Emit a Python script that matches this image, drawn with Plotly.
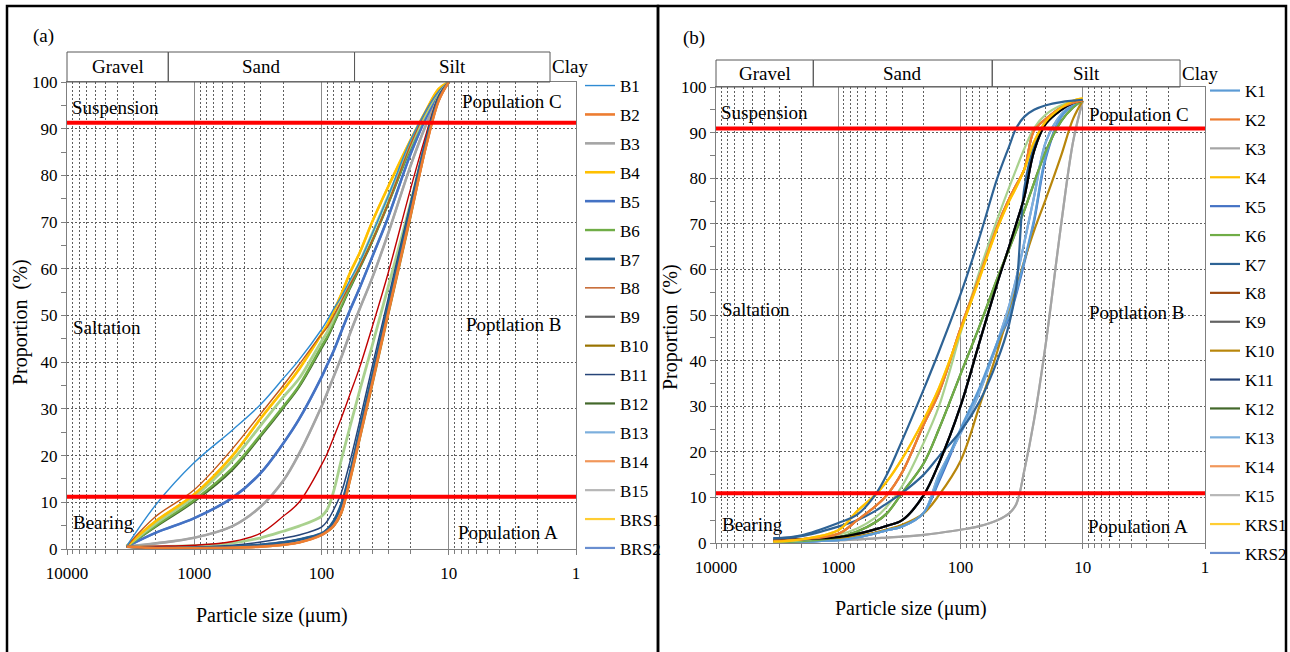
import math
import plotly.graph_objects as go

W, H = 1290, 652
FONT = "Liberation Serif"

# ---------------- data: panel (a) ----------------
sizes_a = [3400, 2000, 1000, 500, 300, 200, 150, 100, 90, 80, 70, 60, 50, 40, 30, 20, 15, 12, 10]
B1 = [0.6, 9.5, 18.5, 25.5, 31, 36.5, 40.5, 47, 49, 51.5, 54, 57.5, 61.5, 67.5, 75.5, 87.5, 94, 98, 100]
B2 = [0.5, 0.2, 0.2, 0.3, 0.5, 0.9, 1.4, 3.0, 3.8, 5.0, 7.8, 14.7, 24, 35.5, 50.5, 71.5, 86.5, 96, 100]
B3 = [0.5, 1.2, 2.4, 4.9, 9.1, 14.6, 20.4, 30.5, 33.5, 37, 41, 46, 51.5, 58, 67.5, 82, 91, 97, 100]
B4 = [0.6, 6, 11.7, 20, 28, 34, 38.5, 46, 48, 51, 54.5, 59, 63.5, 70, 77.5, 87.5, 94, 98.5, 100]
B5 = [0.5, 3.5, 6.6, 11, 16.3, 22.6, 27.8, 36.8, 39.5, 42.5, 46.5, 51, 56, 62.5, 71, 84.5, 92.5, 97.5, 100]
B6 = [0.5, 5, 10.5, 17.4, 24.5, 30.5, 35, 43.4, 45.5, 48.5, 52, 56, 60.5, 66, 74, 86, 93.5, 98, 100]
B7 = [0.5, 0.2, 0.3, 0.5, 0.9, 1.4, 2.0, 3.3, 4.2, 6.0, 9.5, 16, 25.5, 37, 52, 73, 87.5, 96.5, 100]
B8 = [0.6, 7, 12.7, 21.5, 29, 35, 39.5, 46, 47.5, 50, 53, 56.5, 60.5, 66, 74, 86.5, 94, 98, 100]
B9 = [0.5, 0.2, 0.3, 0.5, 0.9, 1.4, 2.0, 3.2, 4.1, 5.8, 9.2, 15.5, 25, 36.5, 51.5, 72.5, 87, 96.5, 100]
B10 = [0.5, 0.2, 0.2, 0.3, 0.5, 0.9, 1.4, 3.0, 3.7, 4.9, 7.6, 14.4, 23.6, 35, 50, 71, 86.5, 96, 100]
B11 = [0.5, 0.3, 0.4, 0.8, 1.5, 2.3, 3.0, 4.7, 6.0, 8.5, 12, 18.5, 27.5, 39, 53.5, 74, 88, 97, 100]
B12 = [0.5, 4.8, 10.2, 17, 24.2, 30.2, 34.7, 43, 45.2, 48.2, 51.7, 55.7, 60.2, 65.8, 73.8, 85.8, 93.4, 98, 100]
B13 = [0.5, 0.2, 0.3, 0.5, 0.9, 1.4, 2.0, 3.3, 4.2, 6.0, 9.5, 16, 25.5, 37, 52, 73, 87.5, 96.5, 100]
B14 = [0.5, 0.2, 0.2, 0.3, 0.5, 0.9, 1.4, 3.0, 3.8, 5.0, 7.8, 14.7, 24, 35.5, 50.5, 71.5, 86.5, 96, 100]
B15 = [0.5, 1.2, 2.4, 4.9, 9.1, 14.6, 20.4, 30.5, 33.5, 37, 41, 46, 51.5, 58, 67.5, 82, 91, 97, 100]
BRS1 = [0.6, 6, 11.7, 20, 28, 34, 38.5, 46, 48, 51, 54.5, 59, 63.5, 70, 77.5, 87.5, 94, 98.5, 100]
BRS2 = [0.5, 3.5, 6.6, 11, 16.3, 22.6, 27.8, 36.8, 39.5, 42.5, 46.5, 51, 56, 62.5, 71, 84.5, 92.5, 97.5, 100]
A_red = [0.5, 0.6, 0.8, 1.6, 3.4, 7, 10, 18, 20.5, 24, 28, 33, 39, 47.5, 59, 77, 89, 97, 100]
A_lightgreen1 = [0.6, 5.5, 11.2, 19, 26.5, 32.5, 36.5, 44.5, 46.5, 49.5, 53, 57, 61.5, 67.5, 75.5, 86.5, 93.5, 98, 100]
A_lightgreen2 = [0.5, 0.5, 0.7, 1.3, 2.4, 3.8, 4.9, 7, 8.5, 12.5, 19, 26, 34, 43.5, 56, 74, 88, 97, 100]

# ---------------- data: panel (b) ----------------
sizes_b = [3400, 2000, 1000, 700, 500, 400, 300, 200, 150, 100, 70, 50, 40, 35, 30, 25, 20, 15, 12, 10]
K1 = [0.1, 0.3, 0.6, 1.2, 2.1, 2.8, 3.6, 6.6, 14, 25, 34, 44, 50, 55, 62, 71, 85, 93.5, 96, 97]
K2 = [0.5, 0.8, 2, 5, 8, 10.5, 15.5, 26, 33, 47, 58.5, 69.5, 75.5, 78.5, 82, 90.5, 93, 95.5, 96.5, 97]
K3 = [0.3, 0.4, 0.6, 0.8, 1.0, 1.2, 1.4, 1.8, 2.2, 2.9, 3.7, 5, 6.5, 8.5, 16, 27, 44, 70, 88, 97]
K4 = [0.3, 0.8, 2.8, 7, 10.5, 13.5, 18.5, 27, 34, 46.5, 58, 69, 75, 78, 82, 88, 92.5, 95.5, 97, 97.5]
K5 = [0.1, 0.3, 0.6, 1.2, 2.1, 2.8, 3.6, 6.6, 13.5, 24.5, 33.5, 43.5, 49.5, 54.5, 61.5, 70.5, 84.5, 93.5, 96, 97]
K6 = [0.2, 0.4, 1.2, 2.5, 4.5, 6.5, 11, 17.5, 25, 37, 47.5, 58, 64.5, 68.5, 73, 79, 86, 92.5, 95.5, 97]
K7 = [1, 1.7, 4.4, 6.2, 10.5, 15, 22.5, 33.7, 42, 54.5, 67, 80, 87, 91, 93.5, 95, 96, 96.7, 97, 97.2]
K8 = [0.5, 0.8, 2, 5, 8, 10.5, 15.5, 26, 33, 47, 58.5, 69.5, 75.5, 78.5, 82, 90.5, 93, 95.5, 96.5, 97]
K9 = [0.5, 0.8, 1.3, 2, 3, 3.8, 5, 10.5, 17.5, 30, 44, 57, 65, 70, 76, 86, 92, 95, 96.5, 97]
K10 = [0.3, 0.5, 1, 1.5, 2.3, 3, 4, 6.5, 10.5, 18, 30, 42, 51, 56, 62, 68.5, 75.5, 85, 93, 97]
K11 = [0.5, 0.8, 1.3, 2, 3, 3.8, 5, 10.5, 17.5, 30, 44, 57, 65, 70, 76, 86, 92, 95, 96.5, 97]
K12 = [0.2, 0.4, 1.2, 2.5, 4.5, 6.5, 11, 17.5, 25, 37, 47.5, 58, 64.5, 68.5, 73, 79, 86, 92.5, 95.5, 97]
K13 = [0.1, 0.3, 0.6, 1.2, 2.1, 2.8, 3.6, 6.6, 15, 24, 33, 44, 52, 58, 66, 76, 88, 94, 96, 97]
K14 = [0.5, 0.8, 2, 5, 8, 10.5, 15.5, 26, 33, 47, 58.5, 69.5, 75.5, 78.5, 82, 90.5, 93, 95.5, 96.5, 97]
K15 = [0.3, 0.4, 0.6, 0.8, 1.0, 1.2, 1.4, 1.8, 2.2, 2.9, 3.7, 5, 6.5, 8.5, 16, 27, 44, 70, 88, 97]
KRS1 = [0.3, 0.8, 2.8, 7, 10.5, 13.5, 18.5, 27, 34, 46.5, 58, 69, 75, 78, 82, 88, 92.5, 95.5, 97, 97.5]
KRS2 = [0.1, 0.3, 0.6, 1.2, 2.1, 2.8, 3.6, 6.6, 15, 24, 33, 44, 52, 58, 66, 76, 88, 94, 96, 97]
B_black = [0.5, 0.8, 1.3, 2, 3, 3.8, 5, 10.5, 17.5, 30, 44, 57, 65, 70, 76, 86, 92, 95, 96.5, 97]
B_steel = [1, 1.5, 3.6, 5, 7, 8.7, 11, 15, 19, 24.5, 31, 40, 48, 56, 78, 87, 92, 95, 96.5, 97]
B_lightgreen = [0.3, 0.6, 1.8, 3.2, 5.5, 8, 12.5, 22, 30, 46, 59.5, 71, 78, 82, 86.5, 91, 94, 96, 96.8, 97]

# thresholds (red lines)
red_levels_a = [91.3, 11.2]
red_levels_b = [90.9, 10.9]

# axis ticks
major_ticks = [10000, 1000, 100, 10, 1]
major_text = ["10000", "1000", "100", "10", "1"]
minor_ticks = [m * 10 ** e for e in range(0, 4) for m in range(2, 10)]

# grain-size class boundaries (µm) used for the header boxes
class_bounds = [10000, 1600, 55, 1.6]
class_names = ["Gravel", "Sand", "Silt"]

# ---------------- figure ----------------
fig = go.Figure()

def add(sizes, vals, name, color, width, rank, xa, ya, leg, show=True):
    fig.add_trace(go.Scatter(
        x=sizes, y=vals, mode="lines", name=name,
        line=dict(color=color, width=width, shape="spline", smoothing=1.0),
        xaxis=xa, yaxis=ya, legend=leg, legendgroup=leg + name,
        legendrank=rank, showlegend=show, hoverinfo="skip"))

# panel (a): hidden/overlapping series first
A = ("x", "y", "legend")
for name, vals, col, w, r in [
    ("B9", B9, "#636363", 2.2, 9), ("B10", B10, "#997300", 2.2, 10),
    ("B12", B12, "#43682B", 2.2, 12), ("B13", B13, "#7CAFDD", 2.2, 13),
    ("B14", B14, "#F1975A", 2.2, 14), ("B15", B15, "#B7B7B7", 2.2, 15),
    ("BRS1", BRS1, "#FFCD33", 2.2, 16), ("BRS2", BRS2, "#698ED0", 2.2, 17)]:
    add(sizes_a, vals, name, col, w, r, *A)
add(sizes_a, B3, "B3", "#A5A5A5", 2.6, 3, *A)
add(sizes_a, B5, "B5", "#4472C4", 2.6, 5, *A)
add(sizes_a, B6, "B6", "#70AD47", 2.4, 6, *A)
add(sizes_a, A_lightgreen1, "a-lg1", "#A9D18E", 2.8, 50, *A, show=False)
add(sizes_a, B4, "B4", "#FFC000", 2.6, 4, *A)
add(sizes_a, B8, "B8", "#C0571A", 1.4, 8, *A)
add(sizes_a, B1, "B1", "#2E8BD3", 1.4, 1, *A)
add(sizes_a, A_lightgreen2, "a-lg2", "#A9D18E", 2.8, 51, *A, show=False)
add(sizes_a, A_red, "a-red", "#C00000", 1.4, 52, *A, show=False)
add(sizes_a, B11, "B11", "#264478", 1.5, 11, *A)
add(sizes_a, B7, "B7", "#255E91", 2.8, 7, *A)
add(sizes_a, B2, "B2", "#ED7D31", 2.6, 2, *A)

# panel (b)
Bx = ("x2", "y2", "legend2")
for name, vals, col, w, r in [
    ("K5", K5, "#4472C4", 2.2, 5), ("K8", K8, "#9E480E", 2.2, 8),
    ("K9", K9, "#636363", 2.2, 9), ("K11", K11, "#264478", 2.2, 11),
    ("K12", K12, "#43682B", 2.2, 12), ("K14", K14, "#F1975A", 2.2, 14),
    ("K15", K15, "#B7B7B7", 2.2, 15), ("KRS1", KRS1, "#FFCD33", 2.2, 16),
    ("KRS2", KRS2, "#698ED0", 2.2, 17)]:
    add(sizes_b, vals, name, col, w, r, *Bx)
add(sizes_b, K3, "K3", "#A5A5A5", 2.2, 3, *Bx)
add(sizes_b, K10, "K10", "#B8860B", 2.2, 10, *Bx)
add(sizes_b, K13, "K13", "#7CAFDD", 2.2, 13, *Bx)
add(sizes_b, K1, "K1", "#5B9BD5", 2.2, 1, *Bx)
add(sizes_b, K6, "K6", "#70AD47", 2.2, 6, *Bx)
add(sizes_b, B_lightgreen, "b-lg", "#A9D18E", 2.2, 50, *Bx, show=False)
add(sizes_b, B_steel, "b-steel", "#2E6395", 2.2, 51, *Bx, show=False)
add(sizes_b, B_black, "b-black", "#000000", 2.2, 52, *Bx, show=False)
add(sizes_b, K2, "K2", "#ED7D31", 2.2, 2, *Bx)
add(sizes_b, K4, "K4", "#FFC000", 2.2, 4, *Bx)
add(sizes_b, K7, "K7", "#2E6395", 2.2, 7, *Bx)

# ---------------- layout ----------------
def px_x(p):
    return p / W

def px_y(p):
    return 1 - p / H

dom_a = dict(x=[67, 576], y=[82, 549], head=52)
dom_b = dict(x=[716, 1205], y=[87, 543], head=60)

AX_LINE = "#7f7f7f"
GRID_DOT = "#5f5f5f"
TICK_SIZE = 17
LABEL_SIZE = 19

def xaxis_cfg(d, anchor):
    return dict(
        type="log", range=[4, 0], domain=[px_x(d["x"][0]), px_x(d["x"][1])], anchor=anchor,
        tickmode="array", tickvals=major_ticks, ticktext=major_text,
        ticks="outside", ticklen=5, tickcolor=AX_LINE, ticklabelstandoff=3,
        showgrid=True, gridcolor="#8c8c8c", gridwidth=1,
        minor=dict(tickmode="array", tickvals=minor_ticks, ticks="outside", ticklen=4,
                   tickcolor=AX_LINE, showgrid=True, gridcolor=GRID_DOT,
                   griddash="2px,2px", gridwidth=1),
        showline=True, linecolor=AX_LINE, linewidth=1.2, mirror=True, zeroline=False,
        tickfont=dict(family=FONT, size=TICK_SIZE, color="black"))

def yaxis_cfg(d, anchor):
    return dict(
        range=[0, 100], domain=[px_y(d["y"][1]), px_y(d["y"][0])], anchor=anchor,
        tickmode="linear", tick0=0, dtick=10, ticks="outside", ticklen=5, tickcolor=AX_LINE,
        showgrid=True, gridcolor=GRID_DOT, griddash="2px,2px", gridwidth=1,
        minor=dict(dtick=5, ticks="outside", ticklen=5, tickcolor=AX_LINE, showgrid=False),
        showline=True, linecolor=AX_LINE, linewidth=1.2, mirror=True, zeroline=False,
        tickfont=dict(family=FONT, size=TICK_SIZE, color="black"))

legend_common = dict(xanchor="left", yanchor="top", font=dict(family=FONT, size=17, color="black"),
                     tracegroupgap=3.8, itemwidth=30, bgcolor="rgba(0,0,0,0)", borderwidth=0,
                     traceorder="grouped", itemclick=False, itemdoubleclick=False)

fig.update_layout(
    width=W, height=H, autosize=False,
    margin=dict(l=0, r=0, t=0, b=0, autoexpand=False),
    paper_bgcolor="white", plot_bgcolor="white",
    font=dict(family=FONT, size=16, color="black"),
    xaxis=xaxis_cfg(dom_a, "y"), yaxis=yaxis_cfg(dom_a, "x"),
    xaxis2=xaxis_cfg(dom_b, "y2"), yaxis2=yaxis_cfg(dom_b, "x2"),
    legend=dict(x=px_x(580), y=px_y(68), **legend_common),
    legend2=dict(x=px_x(1205), y=px_y(73), **legend_common),
)

shapes = []
annotations = []

def frac_x(d, v):
    x0, x1 = d["x"]
    return px_x(x0 + (x1 - x0) * (4 - math.log10(v)) / 4)

for d, xref, yref, reds in [(dom_a, "x", "y", red_levels_a), (dom_b, "x2", "y2", red_levels_b)]:
    top = px_y(d["y"][0])
    htop = px_y(d["head"])
    for i, nm in enumerate(class_names):
        xa, xb = frac_x(d, class_bounds[i]), frac_x(d, class_bounds[i + 1])
        shapes.append(dict(type="rect", xref="paper", yref="paper", x0=xa, x1=xb, y0=top, y1=htop,
                           line=dict(color="#595959", width=1)))
        annotations.append(dict(text=nm, xref="paper", yref="paper", x=(xa + xb) / 2, y=(top + htop) / 2,
                                xanchor="center", yanchor="middle", showarrow=False,
                                font=dict(family=FONT, size=LABEL_SIZE, color="black")))
    annotations.append(dict(text="Clay", xref="paper", yref="paper", x=frac_x(d, class_bounds[3]),
                            y=(top + htop) / 2, xanchor="left", yanchor="middle", showarrow=False,
                            font=dict(family=FONT, size=LABEL_SIZE, color="black")))
    for yv in reds:
        shapes.append(dict(type="line", xref=xref + " domain", yref=yref, x0=0, x1=1, y0=yv, y1=yv,
                           line=dict(color="#FF0000", width=4), layer="above"))

def label(text, x, y, anchor="left", angle=0, size=LABEL_SIZE):
    annotations.append(dict(text=text, xref="paper", yref="paper", x=px_x(x), y=px_y(y),
                            xanchor=anchor, yanchor="middle", showarrow=False, textangle=angle,
                            font=dict(family=FONT, size=size, color="black")))

YT = "Proportion\u00a0\u00a0(%)"
# panel (a) texts
label("(a)", 31, 36)
label("Suspension", 70, 107)
label("Saltation", 71, 327)
label("Bearing", 71, 522)
label("Population C", 460, 102)
label("Poptlation B", 464, 324)
label("Population A", 456, 532)
label("Particle size (μum)", 272, 615, "center", size=20)
label(YT, 20, 322, "center", -90, size=20)
# panel (b) texts
label("(b)", 681, 38)
label("Suspension", 719, 112)
label("Saltation", 720, 309)
label("Bearing", 720, 524)
label("Population C", 1087, 115)
label("Poptlation B", 1087, 312)
label("Population A", 1086, 526)
label("Particle size (μum)", 911, 608, "center", size=20)
label(YT, 670, 327, "center", -90, size=20)

# outer panel frames
shapes.append(dict(type="rect", xref="paper", yref="paper", x0=px_x(7), x1=px_x(658),
                   y0=px_y(H + 10), y1=px_y(6), line=dict(color="black", width=2.5)))
shapes.append(dict(type="rect", xref="paper", yref="paper", x0=px_x(658), x1=px_x(1286),
                   y0=px_y(H + 10), y1=px_y(6), line=dict(color="black", width=2.5)))

fig.update_layout(shapes=shapes, annotations=annotations)
fig.write_html("out.html")
